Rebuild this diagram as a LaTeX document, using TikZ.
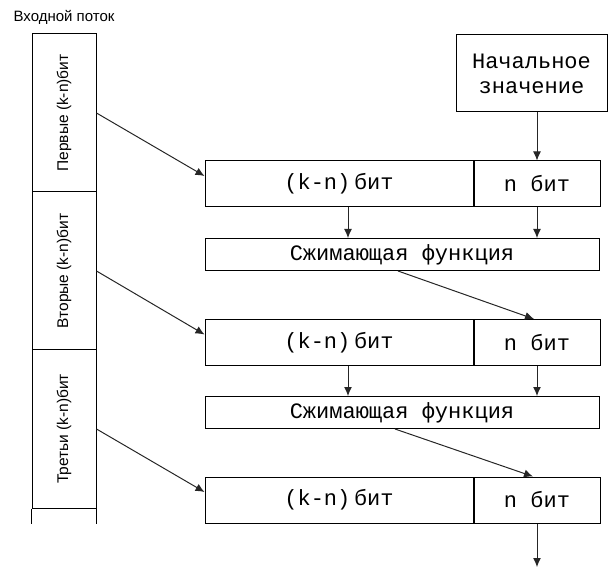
\documentclass[tikz,border=0pt]{standalone}
\usepackage{fontspec}
\usepackage{graphicx}
\setmainfont{Liberation Sans}
\newfontfamily\monofnt{Liberation Mono}
\usetikzlibrary{arrows.meta}

\begin{document}
\begin{tikzpicture}[x=1pt, y=-1pt, line width=1pt,
    cell/.style={draw, inner sep=0pt, minimum width=64pt, minimum height=158pt,
        font=\fontsize{15.5}{18}\selectfont},
    half/.style={draw, inner sep=0pt, minimum height=46pt,
        font=\monofnt\fontsize{22}{25}\selectfont},
    fbox/.style={draw, inner sep=0pt, minimum width=394pt, minimum height=32pt,
        font=\monofnt\fontsize{22}{25}\selectfont},
    arr/.style={-{Latex[length=9pt, width=8pt]}, black!85}]
    \useasboundingbox (0,0) rectangle (608,569);

    \node[anchor=base, font=\fontsize{15}{18}\selectfont] (title) at (64,22) {Входной поток};

    % input stream
    \node[cell] (cell1) at (64,113) {\rotatebox{90}{Первые (k-n)бит}};
    \node[cell] (cell2) at (64,271) {\rotatebox{90}{Вторые (k-n)бит}};
    \node[cell] (cell3) at (64,429) {\rotatebox{90}{Третьи (k-n)бит}};
    \draw (cell3.south west) -- ++(0,15);
    \draw (cell3.south east) -- ++(0,15);

    \node[draw, minimum width=151pt, minimum height=77pt, inner sep=0pt,
        align=center, font=\monofnt\fontsize{22}{25}\selectfont] (init) at (531.5,73.5)
        {Начальное\\значение};

    % blocks
    \node[half, minimum width=268pt] (kn1) at (339,184) {(k-n)\,бит};
    \node[half, minimum width=126pt, anchor=west] (nb1) at (kn1.east) {n бит};
    \node[fbox] (comp1) at (402,254.5) {Сжимающая функция};
    \node[half, minimum width=268pt] (kn2) at (339,342.5) {(k-n)\,бит};
    \node[half, minimum width=126pt, anchor=west] (nb2) at (kn2.east) {n бит};
    \node[fbox] (comp2) at (402,412.5) {Сжимающая функция};
    \node[half, minimum width=268pt] (kn3) at (339,500) {(k-n)\,бит};
    \node[half, minimum width=126pt, anchor=west] (nb3) at (kn3.east) {n бит};
    \coordinate (out) at (nb3.south |- 0,567);

    \draw[arr] (init.south -| nb1) -- (nb1.north);
    \draw[arr] (cell1.east) -- ([yshift=8pt]kn1.west);
    \draw[arr] ([xshift=9pt]kn1.south) -- ([xshift=9pt]kn1.south |- comp1.north);
    \draw[arr] (nb1.south) -- (nb1.south |- comp1.north);
    \draw[arr] ([xshift=-4pt]comp1.south) -- ([xshift=-3pt]nb2.north);
    \draw[arr] (cell2.east) -- ([yshift=8pt]kn2.west);
    \draw[arr] ([xshift=9pt]kn2.south) -- ([xshift=9pt]kn2.south |- comp2.north);
    \draw[arr] (nb2.south) -- (nb2.south |- comp2.north);
    \draw[arr] ([xshift=-7pt]comp2.south) -- ([xshift=-4pt]nb3.north);
    \draw[arr] (cell3.east) -- ([yshift=8pt]kn3.west);
    \draw[arr] (nb3.south) -- (out);
\end{tikzpicture}
\end{document}
